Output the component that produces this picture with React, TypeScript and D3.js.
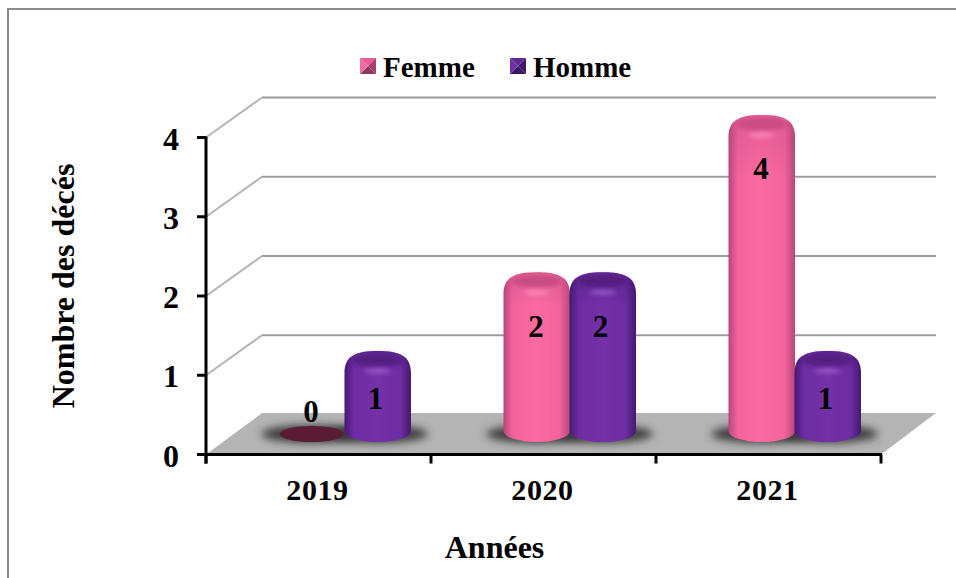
import React from "react";
import * as d3 from "d3";

const years = ["2019", "2020", "2021"];
const femmeValues = [0, 2, 4];
const hommeValues = [1, 2, 1];
const valueTicks = [0, 1, 2, 3, 4];
const seriesNames = ["Femme", "Homme"];

const WIDTH = 956;
const HEIGHT = 578;
const FONT = "'Liberation Serif', 'Times New Roman', serif";

// Front plane of the 3D box and the depth offset of its back wall
const x = d3.scaleBand<string>().domain(years).range([206, 881]);
const y = d3.scaleLinear().domain([0, 4]).range([454.5, 137.5]);
const depthX = 56;
const depthY = 40;

// Cylinders sit in the middle of the floor; their tops follow a parallel scale
const barTop = d3.scaleLinear().domain([1, 4]).range([351, 115]);
const barBase = 431;
const barRy = 11;
const barWidth = 66.5;
const barShift = 26;

const palette = {
  Femme: { dark: "#b8477a", mid: "#f2649c", bright: "#fb6aa0", cap: "#c24a7e", glow: "#ff96c0" },
  Homme: { dark: "#47196f", mid: "#6d2da3", bright: "#7430a8", cap: "#4f1d7c", glow: "#a06cd2" },
} as const;

type Series = keyof typeof palette;

function cylinderPath(x0: number, top: number) {
  const x1 = x0 + barWidth;
  const mid = x0 + barWidth / 2;
  return [
    `M${x0},${barBase}`,
    `L${x0},${top + 22}`,
    `C${x0},${top + 5} ${x0 + 11},${top} ${mid},${top}`,
    `C${x1 - 11},${top} ${x1},${top + 5} ${x1},${top + 22}`,
    `L${x1},${barBase}`,
    `A${barWidth / 2},${barRy} 0 0 1 ${x0},${barBase}`,
    "Z",
  ].join(" ");
}

function labelY(value: number) {
  // Data labels sit slightly lower on the taller cylinders
  return barTop(value) + (value === 1 ? 47 : 53.5);
}

function Bar({ year, series, value }: { year: string; series: Series; value: number }) {
  const groupCentre = (x(year) as number) + x.bandwidth() / 2 + barShift;
  const x0 = series === "Femme" ? groupCentre - barWidth + 0.5 : groupCentre;
  const mid = x0 + barWidth / 2;
  const c = palette[series];
  if (value === 0) {
    return <ellipse cx={mid} cy={434} rx={32} ry={8} fill="#5a1a32" filter="url(#soft)" />;
  }
  const top = barTop(value);
  return (
    <g filter="url(#soft)">
      <path d={cylinderPath(x0, top)} fill={`url(#body-${series})`} />
      <path d={cylinderPath(x0, top)} fill={`url(#shoulder-${series})`} />
      <ellipse cx={mid} cy={top + 9} rx={25} ry={6.5} fill={c.cap} opacity={0.8} filter="url(#cap)" />
      <ellipse cx={mid} cy={top + 20} rx={13} ry={2.5} fill={c.glow} opacity={0.7} filter="url(#cap)" />
    </g>
  );
}

function Shadow({ year, series }: { year: string; series: Series }) {
  const groupCentre = (x(year) as number) + x.bandwidth() / 2 + barShift;
  const mid = groupCentre + (series === "Femme" ? -barWidth / 2 : barWidth / 2);
  return <ellipse cx={mid} cy={434} rx={50} ry={9} fill="#3a3a3a" filter="url(#shadow)" />;
}

function Pyramid({ x0, y0, colors }: { x0: number; y0: number; colors: string[] }) {
  const s = 16;
  const cx = x0 + s / 2;
  const cy = y0 + s / 2;
  const corners = [
    [x0, y0],
    [x0 + s, y0],
    [x0 + s, y0 + s],
    [x0, y0 + s],
  ];
  return (
    <g>
      {corners.map((p, i) => {
        const q = corners[(i + 1) % 4];
        return <polygon key={i} points={`${p[0]},${p[1]} ${q[0]},${q[1]} ${cx},${cy}`} fill={colors[i]} />;
      })}
    </g>
  );
}

export default function App() {
  const series: { name: Series; values: number[] }[] = [
    { name: seriesNames[0] as Series, values: femmeValues },
    { name: seriesNames[1] as Series, values: hommeValues },
  ];
  const floor = d3.line()([
    [206, y(0)],
    [206 + depthX, y(0) - depthY - 1.5],
    [881 + depthX - 1, y(0) - depthY - 1.5],
    [881, y(0)],
  ]) + "Z";
  const xTicks = [...years.map((d) => x(d) as number), 881];

  return (
    <svg
      width={WIDTH}
      height={HEIGHT}
      viewBox={`0 0 ${WIDTH} ${HEIGHT}`}
      style={{ position: "absolute", left: 0, top: 0, background: "#fff" }}
      fontFamily={FONT}
      fontWeight="bold"
    >
      <defs>
        {series.map(({ name }) => {
          const c = palette[name];
          return (
            <React.Fragment key={name}>
              <linearGradient id={`body-${name}`} x1="0" x2="1" y1="0" y2="0">
                <stop offset="0" stopColor={c.dark} />
                <stop offset="0.14" stopColor={c.mid} />
                <stop offset="0.5" stopColor={c.bright} />
                <stop offset="0.84" stopColor={c.mid} />
                <stop offset="1" stopColor={c.dark} />
              </linearGradient>
              <linearGradient id={`shoulder-${name}`} x1="0" x2="0" y1="0" y2="1">
                <stop offset="0" stopColor={c.dark} stopOpacity={0.35} />
                <stop offset="0.2" stopColor={c.dark} stopOpacity={0} />
                <stop offset="1" stopColor={c.dark} stopOpacity={0} />
              </linearGradient>
            </React.Fragment>
          );
        })}
        <filter id="soft" x="-10%" y="-10%" width="120%" height="120%">
          <feGaussianBlur stdDeviation="0.5" />
        </filter>
        <filter id="cap" x="-30%" y="-60%" width="160%" height="220%">
          <feGaussianBlur stdDeviation="2" />
        </filter>
        <filter id="shadow" x="-30%" y="-80%" width="160%" height="260%">
          <feGaussianBlur stdDeviation="4" />
        </filter>
      </defs>

      {/* chart frame */}
      <path d={`M8,${HEIGHT} V9 H${WIDTH}`} fill="none" stroke="#8c8c8c" strokeWidth={2} />

      {/* back wall gridlines with their diagonal side wall segments */}
      {valueTicks.slice(1).map((t) => (
        <g key={t} fill="none" strokeWidth={2}>
          <path d={`M206,${y(t)} L${206 + depthX},${y(t) - depthY}`} stroke="#b4b4b4" />
          <path d={`M${206 + depthX},${y(t) - depthY} H936`} stroke="#9c9c9c" />
        </g>
      ))}

      {/* floor */}
      <path d={floor} fill="#b4b4b4" />

      {/* bar shadows */}
      {series.map(({ name }) =>
        years.map((yr) => <Shadow key={`${name}-${yr}`} year={yr} series={name} />),
      )}

      {/* cylinders */}
      {series.map(({ name, values }) =>
        years.map((yr, i) => <Bar key={`${name}-${yr}`} year={yr} series={name} value={values[i]} />),
      )}

      {/* axes */}
      <g stroke="#000" strokeWidth={3} fill="none">
        <path d={`M206,${y(4) - 1} V${y(0) + 9}`} />
        <path d={`M197,${y(0)} H882`} />
        {valueTicks.map((t) => (
          <path key={t} d={`M197,${y(t)} H206`} />
        ))}
        {xTicks.map((t) => (
          <path key={t} d={`M${t},${y(0)} V${y(0) + 9}`} />
        ))}
      </g>

      {/* value axis labels */}
      {valueTicks.map((t) => (
        <text key={t} x={171} y={y(t) + 1} dy="0.35em" fontSize={32} textAnchor="middle">
          {t}
        </text>
      ))}

      {/* category labels */}
      {years.map((yr) => (
        <text key={yr} x={(x(yr) as number) + x.bandwidth() / 2 - 1} y={500} fontSize={30} textAnchor="middle" letterSpacing={0.6}>
          {yr}
        </text>
      ))}

      {/* data labels */}
      {series.map(({ name, values }) =>
        years.map((yr, i) => {
          const centre = (x(yr) as number) + x.bandwidth() / 2 + barShift;
          const v = values[i];
          const lx = centre + (name === "Femme" ? -33.5 : 31);
          return (
            <text key={`${name}-${yr}`} x={lx} y={v === 0 ? 411 : labelY(v)} dy="0.35em" fontSize={31} textAnchor="middle">
              {v}
            </text>
          );
        }),
      )}

      {/* axis titles */}
      <text x={494.5} y={558} fontSize={32} textAnchor="middle">
        Années
      </text>
      <text transform="translate(74,286) rotate(-90)" fontSize={32} textAnchor="middle">
        Nombre des décés
      </text>

      {/* legend */}
      <Pyramid x0={360} y0={58} colors={["#e85a92", "#a83f6c", "#8f3a60", "#f56ba0"]} />
      <text x={383} y={77} fontSize={29}>
        {seriesNames[0]}
      </text>
      <Pyramid x0={510} y0={58} colors={["#5f2a96", "#43186b", "#3a1560", "#6d30a6"]} />
      <text x={533} y={77} fontSize={29}>
        {seriesNames[1]}
      </text>
    </svg>
  );
}
